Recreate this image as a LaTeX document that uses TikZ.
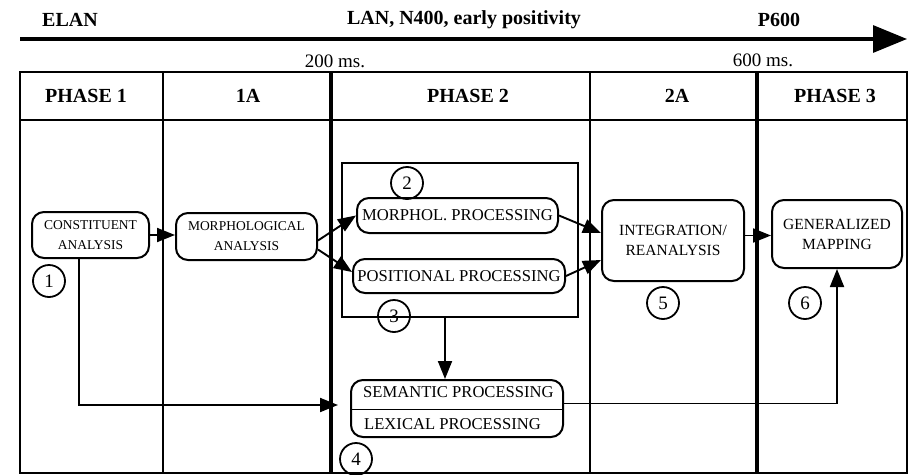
\documentclass[tikz,border=0pt]{standalone}
\usepackage{fontspec}
\setmainfont{Liberation Serif}
\usetikzlibrary{arrows.meta,calc}
\begin{document}
\begin{tikzpicture}[x=1pt,y=-1pt,
  gridline/.style={line width=1.9pt},
  thickcol/.style={line width=3.4pt},
  hdr/.style={font=\fontsize{20}{22}\selectfont\bfseries},
  ms/.style={font=\fontsize{19}{21}\selectfont},
  pbox/.style={draw, line width=2pt, rounded corners=12pt, align=center, inner sep=0pt},
  smalltxt/.style={font=\fontsize{13.5}{20}\selectfont},
  midtxt/.style={font=\fontsize{15.5}{20}\selectfont},
  bigtxt/.style={font=\fontsize{16.6}{20}\selectfont},
  num/.style={circle, draw, line width=1.8pt, minimum size=32pt, inner sep=0pt, font=\fontsize{19}{19}\selectfont},
  arr/.style={-{Triangle[length=18pt,width=14pt]}, line width=1.9pt},
]
\useasboundingbox (0,0) rectangle (909,474);

% top time line
\node[hdr] (elan) at (70,20) {ELAN};
\node[hdr] (lan) at (464,20) {LAN, N400, early positivity};
\node[hdr] (p600) at (779,20) {P600};
\coordinate (tstart) at (20,39);
\coordinate (tend) at (907,39);
\draw[line width=3.2pt, -{Triangle[length=34pt,width=27pt]}] (tstart) -- (tend);
\node[ms] (t200) at (335,61) {200 ms.};
\node[ms] (t600) at (763,60) {600 ms.};

% table
\draw[gridline] (20,72) rectangle (907,473);
\draw[gridline] (20,120) -- (907,120);
\draw[gridline] (163,72) -- (163,473);
\draw[gridline] (590,72) -- (590,473);
\draw[thickcol] (331,72) -- (331,473);
\draw[thickcol] (757,72) -- (757,473);

\node[hdr] (h1) at (86,96) {PHASE 1};
\node[hdr] (h1a) at (248,96) {1A};
\node[hdr] (h2) at (468,96) {PHASE 2};
\node[hdr] (h2a) at (677,96) {2A};
\node[hdr] (h3) at (835,96) {PHASE 3};

% group rectangle
\node[draw, line width=2pt, minimum width=236pt, minimum height=154pt, inner sep=0pt] (grp) at (460,240) {};

% process boxes
\node[pbox, smalltxt, minimum width=117pt, minimum height=46pt] (const) at (90.5,235) {CONSTITUENT\\ANALYSIS};
\node[pbox, smalltxt, minimum width=141pt, minimum height=47pt] (morphA) at (246.5,236.5) {MORPHOLOGICAL\\ANALYSIS};
\node[pbox, bigtxt, minimum width=201pt, minimum height=35pt] (morphP) at (457.5,215.5) {MORPHOL. PROCESSING};
\node[pbox, bigtxt, minimum width=212pt, minimum height=34pt] (posP) at (459,276) {POSITIONAL PROCESSING};
\node[pbox, midtxt, minimum width=142pt, minimum height=81pt] (integ) at (673,240.5) {INTEGRATION/\\REANALYSIS};
\node[pbox, midtxt, minimum width=130pt, minimum height=68pt] (gen) at (837,234) {GENERALIZED\\MAPPING};
\node[pbox, minimum width=212pt, minimum height=57pt] (semlex) at (457,408.5) {};
\node[bigtxt, anchor=west, inner sep=0pt] (semT) at (363,392) {SEMANTIC PROCESSING};
\node[bigtxt, anchor=west, inner sep=0pt] (lexT) at (364,424) {LEXICAL PROCESSING};
\draw[line width=1.8pt] ([yshift=-1pt]semlex.west) -- ([yshift=-1pt]semlex.east);

% numbers
\node[num] (n1) at (49,281) {1};
\node[num] (n2) at (407,183) {2};
\node[num] (n3) at (394,316) {3};
\node[num] (n4) at (356,459) {4};
\node[num] (n5) at (663,303) {5};
\node[num] (n6) at (805,303) {6};

% connectors
\draw[arr] (const.east) -- (const.east -| morphA.west);
\draw[arr] ([yshift=-4pt]morphA.east) -- (morphP.west);
\draw[arr] ([yshift=-13pt]morphA.east) -- ([yshift=4pt]posP.west);
\draw[arr] (morphP.east) -- ([yshift=7.5pt]integ.west);
\draw[arr] (posP.east) -- ([yshift=-19.5pt]integ.west);
\draw[arr] ([yshift=5pt]integ.east) -- ([yshift=5pt]integ.east -| gen.west);
\draw[arr] ([xshift=-15pt]grp.south) -- ([xshift=-15pt]grp.south |- semlex.north);
\draw[arr, shorten >=12pt] ([xshift=-11.5pt]const.south) |- ([yshift=3.5pt]semlex.west);
\draw[arr] ([yshift=5pt]semlex.east) -| (gen.south);
\end{tikzpicture}
\end{document}
